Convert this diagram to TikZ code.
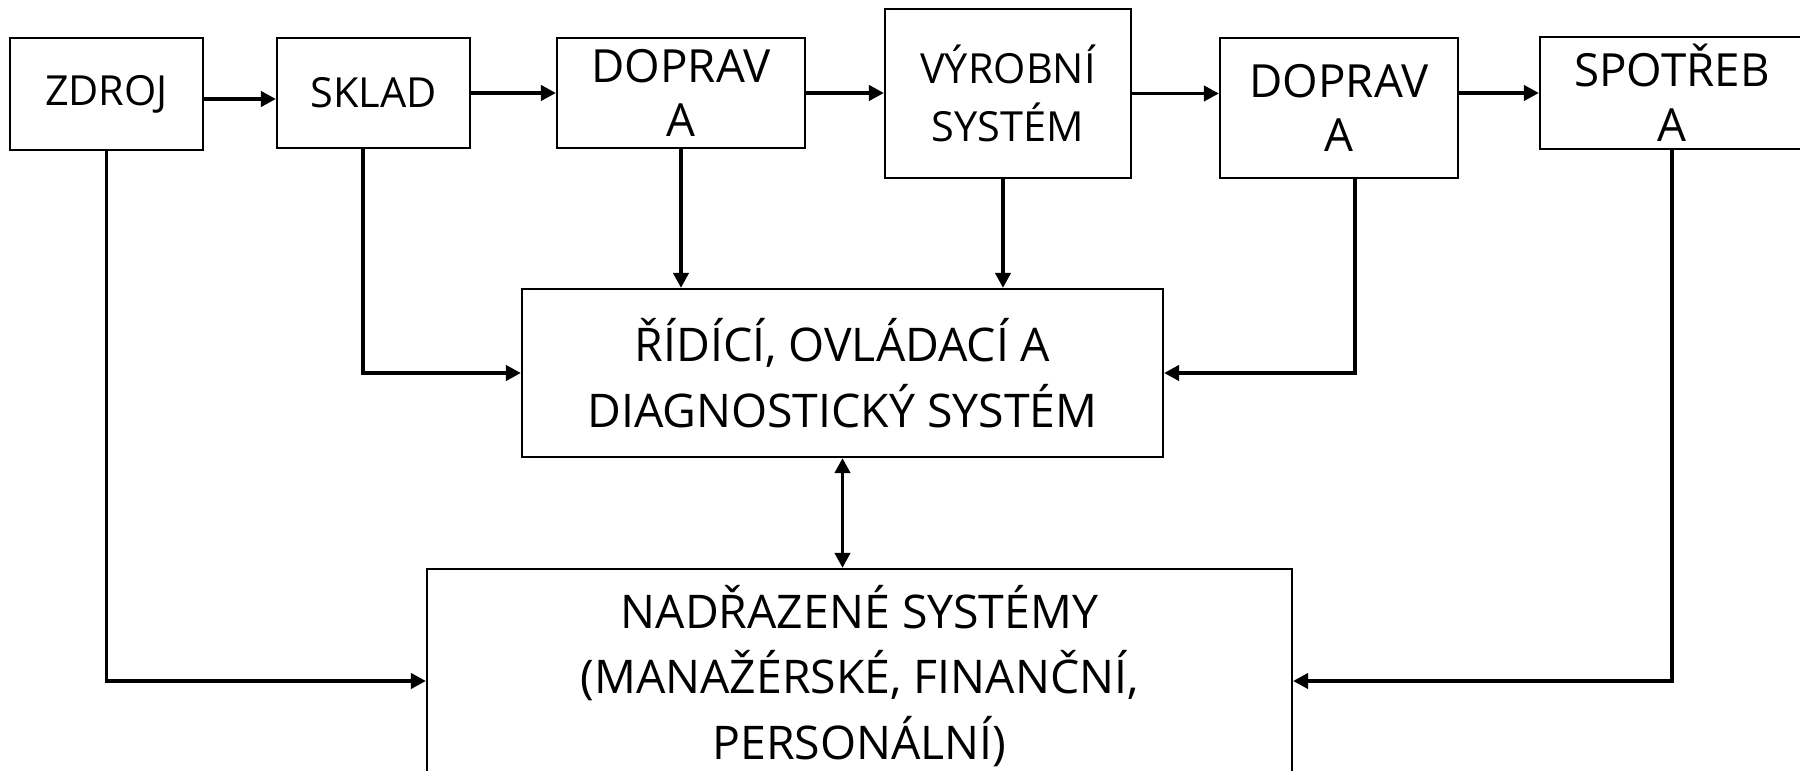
\documentclass[tikz,border=0pt]{standalone}
\usepackage{fontspec}
\setmainfont{Open Sans}
\usetikzlibrary{arrows.meta}
\tikzstyle{box} = [rectangle, draw, line width=0.6pt, align=center, inner sep=2pt]
\tikzstyle{smalltxt} = [font=\fontsize{11.8}{16.5}\selectfont]
\tikzstyle{bigtxt} = [font=\fontsize{13}{15.6}\selectfont]
\tikzstyle{hugetxt} = [font=\fontsize{13.2}{18.6}\selectfont]
\tikzstyle{reg} = [-{Triangle[length=4.3pt, width=4.3pt]}, line width=1.1pt]
\tikzstyle{biv} = [{Triangle[length=4.3pt, width=4.3pt]}-{Triangle[length=4.3pt, width=4.3pt]}, line width=1.1pt]

\begin{document}
\begin{tikzpicture}
  \useasboundingbox (0,0) rectangle (18,-7.71);
  % materiálový tok
  \node[box, smalltxt, minimum width=1.93cm, minimum height=1.12cm] (zdroj) at (1.065,-0.94) {ZDROJ};
  \node[box, smalltxt, minimum width=1.93cm, minimum height=1.10cm] (sklad) at (3.735,-0.93) {SKLAD};
  \node[box, bigtxt, minimum width=2.48cm, minimum height=1.10cm] (dopr1) at (6.81,-0.93) {DOPRAV\\A};
  \node[box, smalltxt, minimum width=2.46cm, minimum height=1.69cm] (vyrobni) at (10.08,-0.935) {VÝROBNÍ\\SYSTÉM};
  \node[box, bigtxt, minimum width=2.38cm, minimum height=1.40cm] (dopr2) at (13.39,-1.08) {DOPRAV\\A};
  \node[box, bigtxt, minimum width=2.64cm, minimum height=1.10cm] (spotreba) at (16.72,-0.93) {SPOTŘEB\\A};

  % řízení
  \node[box, hugetxt, minimum width=6.41cm, minimum height=1.68cm] (ridici) at (8.425,-3.73) {ŘÍDÍCÍ, OVLÁDACÍ A\\DIAGNOSTICKÝ SYSTÉM};
  \node[box, hugetxt, minimum width=8.65cm, minimum height=2.14cm] (nadraz) at (8.595,-6.76) {NADŘAZENÉ SYSTÉMY\\(MANAŽÉRSKÉ, FINANČNÍ,\\PERSONÁLNÍ)};

  % tok mezi bloky
  \draw[reg] ([yshift=-0.5mm]zdroj.east) -- ([yshift=-0.5mm]zdroj.east -| sklad.west);
  \draw[reg] (sklad.east) -- (sklad.east -| dopr1.west);
  \draw[reg] (dopr1.east) -- (dopr1.east -| vyrobni.west);
  \draw[reg] (vyrobni.east) -- (vyrobni.east -| dopr2.west);
  \draw[reg] (dopr2.east |- spotreba.west) -- (spotreba.west);

  % vazby na řídicí systém
  \draw[reg] ([xshift=-1.05mm]sklad.south) |- (ridici.west);
  \draw[reg] (dopr1.south) -- (dopr1.south |- ridici.north);
  \draw[reg] ([xshift=-0.5mm]vyrobni.south) -- ([xshift=-0.5mm]vyrobni.south |- ridici.north);
  \draw[reg] ([xshift=1.6mm]dopr2.south) |- (ridici.east);

  % vazby na nadřazené systémy
  \draw[reg] (zdroj.south) |- ([yshift=-0.5mm]nadraz.west);
  \draw[reg] (spotreba.south) |- ([yshift=-0.5mm]nadraz.east);
  \draw[biv] (ridici.south) -- (ridici.south |- nadraz.north);
\end{tikzpicture}
\end{document}
